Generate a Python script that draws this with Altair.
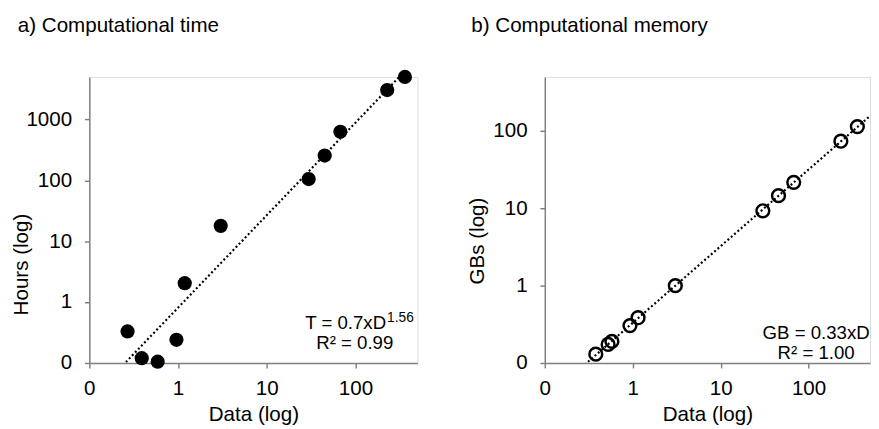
import altair as alt
import pandas as pd

FONT = "Liberation Sans"

# ---- data ----
time_data = [0.27, 0.39, 0.59, 0.96, 1.19, 3.03, 29.7, 45, 67.6, 228, 361]
time_hours = [0.33, 0.12, 0.105, 0.24, 2.05, 17.9, 105, 256, 630, 3050, 5000]

mem_data = [0.38, 0.525, 0.58, 0.93, 1.15, 3.05, 30.2, 45.5, 67.8, 233, 359]
mem_gb = [0.13, 0.174, 0.19, 0.305, 0.385, 1.0, 9.3, 14.6, 21.7, 73.8, 114]

x_ticks = [0.1, 1, 10, 100]
time_ticks = [0.1, 1, 10, 100, 1000]
mem_ticks = [0.1, 1, 10, 100]

x_domain = [0.1, 500]
time_domain = [0.1, 5000]
mem_domain = [0.1, 500]

titles = ["a) Computational time", "b) Computational memory"]
eq_time = ["T = 0.7xD", "1.56", "R² = 0.99"]
eq_mem = ["GB = 0.33xD", "R² = 1.00"]

LABEL_EXPR = "format(datum.value, '.0f')"
AX_COLOR = "#808080"


def x_axis():
    return alt.Axis(values=x_ticks, labelExpr=LABEL_EXPR, title="Data (log)",
                    grid=False, domainColor=AX_COLOR, domainWidth=1.5,
                    tickColor=AX_COLOR, tickWidth=1.5, tickSize=5,
                    labelFont=FONT, labelFontSize=21, labelColor="black",
                    labelPadding=10, labelFlush=False, labelOverlap=False,
                    titleFont=FONT, titleFontSize=21, titleFontWeight="normal",
                    titleColor="black", titlePadding=6)


def y_axis(title, ticks, title_y):
    return alt.Axis(values=ticks, labelExpr=LABEL_EXPR, title=title,
                    grid=False, domainColor=AX_COLOR, domainWidth=1.5,
                    tickColor=AX_COLOR, tickWidth=1.5, tickSize=5,
                    labelFont=FONT, labelFontSize=21, labelColor="black",
                    labelPadding=13, labelFlush=False, labelOverlap=False,
                    titleFont=FONT, titleFontSize=21, titleFontWeight="normal",
                    titleColor="black", titleAngle=270, titleAlign="center",
                    titleBaseline="alphabetic", titleX=-63, titleY=title_y)


def text_layer(label, x, y, size=19, align="center", baseline="middle"):
    return alt.Chart(pd.DataFrame({"label": [label]})).mark_text(
        font=FONT, fontSize=size, color="black", align=align, baseline=baseline
    ).encode(x=alt.value(x), y=alt.value(y), text="label:N")


W_LEFT, W_RIGHT, H = 335, 332, 292

# ---- panel a ----
df_t = pd.DataFrame({"data": time_data, "hours": time_hours})
xa = alt.X("data:Q", scale=alt.Scale(type="log", domain=x_domain, nice=False), axis=x_axis())
ya = alt.Y("hours:Q", scale=alt.Scale(type="log", domain=time_domain, nice=False),
           axis=y_axis("Hours (log)", time_ticks, 191))

base_a = alt.Chart(df_t)
trend_a = base_a.transform_regression("data", "hours", method="pow", extent=x_domain).mark_line(
    clip=True, color="black", strokeDash=[2, 2.5], strokeWidth=2.2).encode(x=xa, y=ya)
pts_a = base_a.mark_circle(size=210, color="black", opacity=1).encode(x=xa, y=ya)

panel_a = alt.layer(
    trend_a, pts_a,
    text_layer(titles[0], -73, -46, size=21, align="left", baseline="alphabetic"),
    text_layer(eq_time[0], 303, 251, align="right"),
    text_layer(eq_time[1], 304, 246, size=14, align="left"),
    text_layer(eq_time[2], 271, 272),
).properties(width=W_LEFT, height=H)

# ---- panel b ----
df_m = pd.DataFrame({"data": mem_data, "gb": mem_gb})
xb = alt.X("data:Q", scale=alt.Scale(type="log", domain=x_domain, nice=False), axis=x_axis())
yb = alt.Y("gb:Q", scale=alt.Scale(type="log", domain=mem_domain, nice=False),
           axis=y_axis("GBs (log)", mem_ticks, 167))

base_b = alt.Chart(df_m)
trend_b = base_b.transform_regression("data", "gb", method="pow", extent=x_domain).mark_line(
    clip=True, color="black", strokeDash=[2, 2.5], strokeWidth=2.2).encode(x=xb, y=yb)
pts_b = base_b.mark_point(shape="circle", filled=False, size=170, strokeWidth=2.5,
                          color="black", opacity=1).encode(x=xb, y=yb)

panel_b = alt.layer(
    trend_b, pts_b,
    text_layer(titles[1], -75, -46, size=21, align="left", baseline="alphabetic"),
    text_layer(eq_mem[0], 277, 261),
    text_layer(eq_mem[1], 277, 282),
).properties(width=W_RIGHT, height=H)

chart = alt.hconcat(panel_a, panel_b, spacing=48).properties(
    padding={"left": 2, "top": 2, "right": 0, "bottom": 0}
).configure_view(fill="#f8f8f8", stroke=None).configure(background="white")

chart.save("out.html", embed_options={"renderer": "svg", "actions": False})
